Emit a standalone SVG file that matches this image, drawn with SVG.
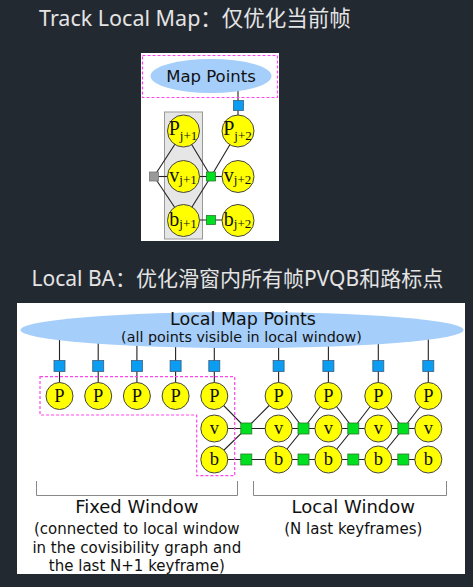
<svg xmlns="http://www.w3.org/2000/svg" width="473" height="587" viewBox="0 0 473 587">
<style>
.title{font-family:"Noto Sans","Noto Sans CJK SC",sans-serif;fill:#e4e4e4}
.lab{font-family:"DejaVu Sans",sans-serif;fill:#111}
.var{font-family:"Liberation Serif",serif;fill:#111}
.node{fill:#ffff00;stroke:#444;stroke-width:1}
.mp{fill:#a5cefa}
.blue{fill:#0a9df2;stroke:#3a5f80;stroke-width:0.8}
.green{fill:#00e021;stroke:#2a7a2a;stroke-width:0.8}
.gray{fill:#999;stroke:#777;stroke-width:0.8}
.edge{stroke:#222;stroke-width:1.1;fill:none}
.dash{fill:none;stroke:#ff44ee;stroke-width:1.2;stroke-dasharray:3,2}
.bracket{fill:none;stroke:#888;stroke-width:1}
</style>
<rect x="0" y="0" width="473" height="587" fill="#232931"/>
<text class="title" x="39" y="26" font-size="21.5">Track Local Map：仅优化当前帧</text>
<text class="title" x="31.5" y="286" font-size="21">Local BA：优化滑窗内所有帧PVQB和路标点</text>

<!-- top panel -->
<rect x="141" y="53" width="138" height="188" fill="#fff"/>
<rect x="164.5" y="112" width="38" height="127" fill="#e6e6e6" stroke="#999" stroke-width="1"/>
<g id="top-connectors">
<line class="edge" x1="238" y1="76" x2="238" y2="131"/>
<line class="edge" x1="154" y1="176.5" x2="183.5" y2="131"/>
<line class="edge" x1="154" y1="176.5" x2="183.5" y2="176.5"/>
<line class="edge" x1="154" y1="176.5" x2="183.5" y2="220.5"/>
<line class="edge" x1="211" y1="176.5" x2="183.5" y2="131"/>
<line class="edge" x1="211" y1="176.5" x2="183.5" y2="176.5"/>
<line class="edge" x1="211" y1="176.5" x2="183.5" y2="220.5"/>
<line class="edge" x1="211" y1="176.5" x2="238" y2="131"/>
<line class="edge" x1="211" y1="176.5" x2="238" y2="176.5"/>
<line class="edge" x1="183.5" y1="220" x2="238" y2="220"/>
</g>
<g id="top-mappoints">
<ellipse class="mp" cx="211" cy="76" rx="60.5" ry="17"/>
<text class="lab" x="211" y="82" font-size="16.5" text-anchor="middle">Map Points</text>
</g>
<rect class="dash" x="142.5" y="55.5" width="135" height="42"/>
<g id="top-factors">
<rect class="blue" x="233.5" y="100.5" width="10" height="10"/>
<rect class="gray" x="149.5" y="172" width="9" height="9"/>
<rect class="green" x="206.5" y="172" width="9" height="9"/>
<rect class="green" x="206.5" y="215.5" width="9" height="9"/>
</g>
<g id="top-Pj1"><circle class="node" cx="183.5" cy="131" r="16"/><text class="var" x="183" y="135" font-size="20" text-anchor="middle">P<tspan font-size="13" dy="5">j+1</tspan></text></g>
<g id="top-vj1"><circle class="node" cx="183.5" cy="176.5" r="16"/><text class="var" x="183" y="181.5" font-size="20" text-anchor="middle">v<tspan font-size="13" dy="2.5">j+1</tspan></text></g>
<g id="top-bj1"><circle class="node" cx="183.5" cy="220.5" r="16"/><text class="var" x="183" y="225.5" font-size="20" text-anchor="middle">b<tspan font-size="13" dy="2.5">j+1</tspan></text></g>
<g id="top-Pj2"><circle class="node" cx="238" cy="131" r="16"/><text class="var" x="237.5" y="135" font-size="20" text-anchor="middle">P<tspan font-size="13" dy="5">j+2</tspan></text></g>
<g id="top-vj2"><circle class="node" cx="238" cy="176.5" r="16"/><text class="var" x="237.5" y="181.5" font-size="20" text-anchor="middle">v<tspan font-size="13" dy="2.5">j+2</tspan></text></g>
<g id="top-bj2"><circle class="node" cx="238" cy="220.5" r="16"/><text class="var" x="237.5" y="225.5" font-size="20" text-anchor="middle">b<tspan font-size="13" dy="2.5">j+2</tspan></text></g>

<!-- bottom panel -->
<rect x="17" y="303" width="448" height="271" fill="#fff"/>
<g id="bottom-connectors">
<line class="edge" x1="59.5" y1="330" x2="59.5" y2="396"/>
<line class="edge" x1="98.2" y1="330" x2="98.2" y2="396"/>
<line class="edge" x1="136.9" y1="330" x2="136.9" y2="396"/>
<line class="edge" x1="175.6" y1="330" x2="175.6" y2="396"/>
<line class="edge" x1="214.3" y1="330" x2="214.3" y2="396"/>
<line class="edge" x1="278.6" y1="330" x2="278.6" y2="396"/>
<line class="edge" x1="328.4" y1="330" x2="328.4" y2="396"/>
<line class="edge" x1="378.3" y1="330" x2="378.3" y2="396"/>
<line class="edge" x1="428.3" y1="330" x2="428.3" y2="396"/>
<path class="edge" d="M214.3,396 L246.3,428.5 L214.3,459.5 M214.3,428.5 H278.6 M246.3,428.5 L278.6,396"/>
<path class="edge" d="M278.6,396 L303.5,428.5 L278.6,459.5 M278.6,428.5 H328.4 M303.5,428.5 L328.4,396"/>
<path class="edge" d="M328.4,396 L353.3,428.5 L328.4,459.5 M328.4,428.5 H378.3 M353.3,428.5 L378.3,396"/>
<path class="edge" d="M378.3,396 L403.3,428.5 L378.3,459.5 M378.3,428.5 H428.3 M403.3,428.5 L428.3,396"/>
<path class="edge" d="M214.3,459.5 H428.3"/>
</g>
<g id="local-map-points">
<ellipse class="mp" cx="242" cy="330" rx="221.5" ry="18"/>
<text class="lab" x="243" y="324.5" font-size="17.5" text-anchor="middle">Local Map Points</text>
<text class="lab" x="241.5" y="342" font-size="14.3" text-anchor="middle">(all points visible in local window)</text>
</g>
<path class="dash" d="M40,376.7 H234.7 V475.7 H196.7 V415 H40 Z"/>
<g id="bottom-factors">
<rect class="blue" x="54" y="360.5" width="11" height="11"/>
<rect class="blue" x="92.7" y="360.5" width="11" height="11"/>
<rect class="blue" x="131.4" y="360.5" width="11" height="11"/>
<rect class="blue" x="170.1" y="360.5" width="11" height="11"/>
<rect class="blue" x="208.8" y="360.5" width="11" height="11"/>
<rect class="blue" x="273.1" y="360.5" width="11" height="11"/>
<rect class="blue" x="322.9" y="360.5" width="11" height="11"/>
<rect class="blue" x="372.8" y="360.5" width="11" height="11"/>
<rect class="blue" x="422.8" y="360.5" width="11" height="11"/>
<rect class="green" x="240.8" y="423" width="11" height="11"/>
<rect class="green" x="298" y="423" width="11" height="11"/>
<rect class="green" x="347.8" y="423" width="11" height="11"/>
<rect class="green" x="397.8" y="423" width="11" height="11"/>
<rect class="green" x="240.8" y="454" width="11" height="11"/>
<rect class="green" x="298" y="454" width="11" height="11"/>
<rect class="green" x="347.8" y="454" width="11" height="11"/>
<rect class="green" x="397.8" y="454" width="11" height="11"/>
</g>
<g id="P1"><circle class="node" cx="59.5" cy="396" r="13.5"/><text class="var" x="59.5" y="402.3" font-size="18.5" text-anchor="middle">P</text></g>
<g id="P2"><circle class="node" cx="98.2" cy="396" r="13.5"/><text class="var" x="98.2" y="402.3" font-size="18.5" text-anchor="middle">P</text></g>
<g id="P3"><circle class="node" cx="136.9" cy="396" r="13.5"/><text class="var" x="136.9" y="402.3" font-size="18.5" text-anchor="middle">P</text></g>
<g id="P4"><circle class="node" cx="175.6" cy="396" r="13.5"/><text class="var" x="175.6" y="402.3" font-size="18.5" text-anchor="middle">P</text></g>
<g id="P5"><circle class="node" cx="214.3" cy="396" r="13.5"/><text class="var" x="214.3" y="402.3" font-size="18.5" text-anchor="middle">P</text></g>
<g id="v5"><circle class="node" cx="214.3" cy="428.5" r="13.5"/><text class="var" x="214.3" y="433.5" font-size="18.5" text-anchor="middle">v</text></g>
<g id="b5"><circle class="node" cx="214.3" cy="459.5" r="13.5"/><text class="var" x="214.3" y="465" font-size="18.5" text-anchor="middle">b</text></g>
<g id="P6"><circle class="node" cx="278.6" cy="396" r="13.5"/><text class="var" x="278.6" y="402.3" font-size="18.5" text-anchor="middle">P</text></g>
<g id="v6"><circle class="node" cx="278.6" cy="428.5" r="13.5"/><text class="var" x="278.6" y="433.5" font-size="18.5" text-anchor="middle">v</text></g>
<g id="b6"><circle class="node" cx="278.6" cy="459.5" r="13.5"/><text class="var" x="278.6" y="465" font-size="18.5" text-anchor="middle">b</text></g>
<g id="P7"><circle class="node" cx="328.4" cy="396" r="13.5"/><text class="var" x="328.4" y="402.3" font-size="18.5" text-anchor="middle">P</text></g>
<g id="v7"><circle class="node" cx="328.4" cy="428.5" r="13.5"/><text class="var" x="328.4" y="433.5" font-size="18.5" text-anchor="middle">v</text></g>
<g id="b7"><circle class="node" cx="328.4" cy="459.5" r="13.5"/><text class="var" x="328.4" y="465" font-size="18.5" text-anchor="middle">b</text></g>
<g id="P8"><circle class="node" cx="378.3" cy="396" r="13.5"/><text class="var" x="378.3" y="402.3" font-size="18.5" text-anchor="middle">P</text></g>
<g id="v8"><circle class="node" cx="378.3" cy="428.5" r="13.5"/><text class="var" x="378.3" y="433.5" font-size="18.5" text-anchor="middle">v</text></g>
<g id="b8"><circle class="node" cx="378.3" cy="459.5" r="13.5"/><text class="var" x="378.3" y="465" font-size="18.5" text-anchor="middle">b</text></g>
<g id="P9"><circle class="node" cx="428.3" cy="396" r="13.5"/><text class="var" x="428.3" y="402.3" font-size="18.5" text-anchor="middle">P</text></g>
<g id="v9"><circle class="node" cx="428.3" cy="428.5" r="13.5"/><text class="var" x="428.3" y="433.5" font-size="18.5" text-anchor="middle">v</text></g>
<g id="b9"><circle class="node" cx="428.3" cy="459.5" r="13.5"/><text class="var" x="428.3" y="465" font-size="18.5" text-anchor="middle">b</text></g>

<g id="fixed-window">
<path class="bracket" d="M36.5,481 V495.5 H237.5 V481"/>
<text class="lab" x="136.8" y="513" font-size="18" text-anchor="middle">Fixed Window</text>
<text class="lab" x="136.8" y="533.5" font-size="15" text-anchor="middle">(connected to local window</text>
<text class="lab" x="136.8" y="552.5" font-size="15" text-anchor="middle">in the covisibility graph and</text>
<text class="lab" x="136.8" y="571" font-size="15" text-anchor="middle">the last N+1 keyframe)</text>
</g>
<g id="local-window">
<path class="bracket" d="M253.5,481 V495.5 H446.5 V481"/>
<text class="lab" x="353.3" y="513" font-size="18" text-anchor="middle">Local Window</text>
<text class="lab" x="353.3" y="533.5" font-size="15" text-anchor="middle">(N last keyframes)</text>
</g>
</svg>
